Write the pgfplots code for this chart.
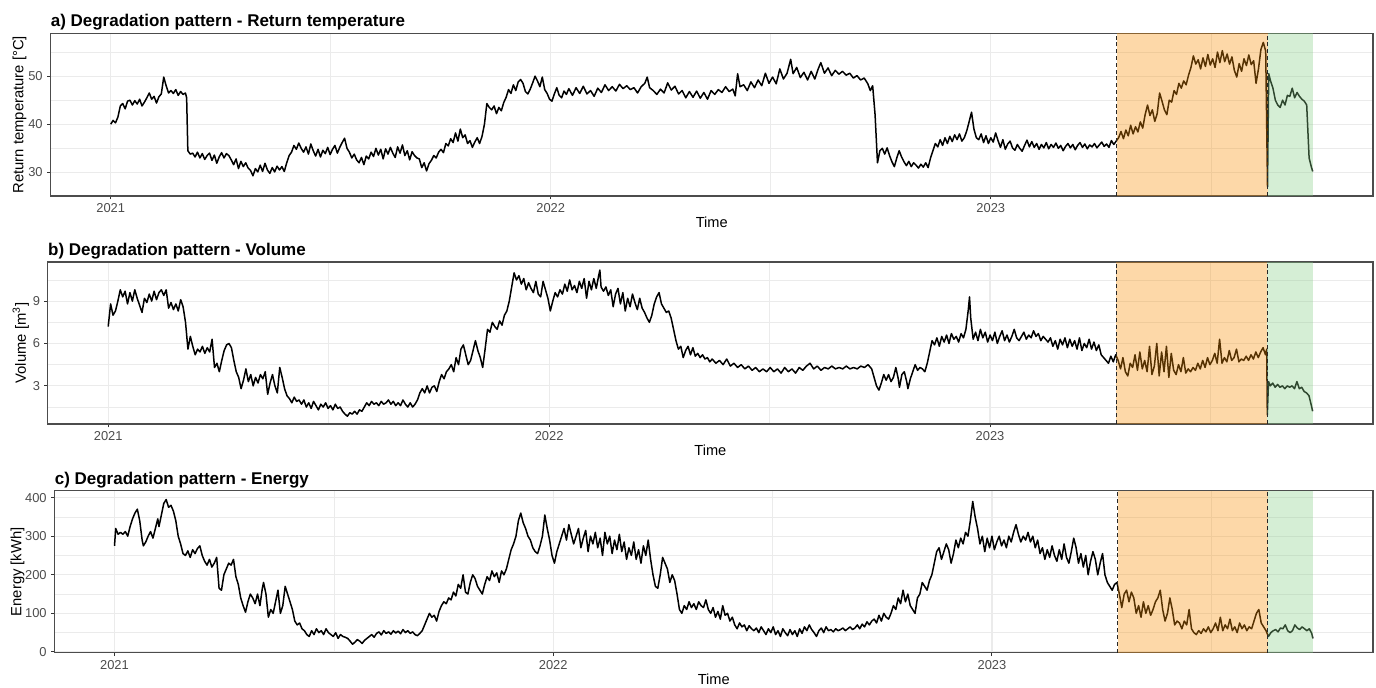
\documentclass[border=0pt]{standalone}
\usepackage{fontspec}
\setmainfont{Liberation Sans}
\usepackage{pgfplots}
\pgfplotsset{compat=1.18}

\definecolor{shadeorange}{RGB}{249,144,6}
\definecolor{shadegreen}{RGB}{135,206,135}
\definecolor{gridgray}{RGB}{235,235,235}

% common look of the three panels (ggplot theme_bw-ish)
\pgfplotsset{
  panel/.style={
    scale only axis,
    anchor=south west,
    xmin=-50, xmax=1047,
    xtick={0,365,730},
    xticklabels={2021,2022,2023},
    minor xtick={182.5,547.5,912.5},
    grid=both,
    major grid style={gridgray, line width=0.6pt},
    minor grid style={gridgray, line width=0.35pt},
    axis line style={black!70, line width=0.6pt},
    tick align=outside,
    xtick pos=bottom, ytick pos=left,
    major tick length=1.7pt,
    minor tick length=0pt,
    tick style={black!80, line width=0.5pt},
    /pgf/number format/assume math mode=true,
    ticklabel style={font=\fontsize{6.45}{7.5}\selectfont, text=black!70, inner sep=0pt},
    xticklabel style={anchor=base, yshift=-6.6pt},
    yticklabel style={anchor=east, xshift=-2pt},
    title style={anchor=base west, yshift=-6.7pt, font=\fontsize{8.5}{10}\selectfont\bfseries, inner sep=0pt},
    xlabel style={at={([yshift=-16pt]rel axis cs:0.5,0)}, anchor=base, font=\fontsize{7.3}{9}\selectfont, inner sep=0pt},
    ylabel style={anchor=base, font=\fontsize{7.4}{9}\selectfont, inner sep=0pt},
    xlabel={Time},
  },
  series/.style={black, line width=0.75pt, line join=round},
}
\tikzset{cut/.style={black!85, line width=0.55pt, dash pattern=on 2pt off 1.4pt}}

\begin{document}
\begin{tikzpicture}
\useasboundingbox (0,0) rectangle (688pt,344pt);

% ---------------- a) Return temperature
\begin{axis}[panel,
  at={(25.2pt,246pt)}, width=661.3pt, height=81.35pt,
  ymin=25.1, ymax=58.9,
  ytick={30,40,50}, minor ytick={25,35,45,55},
  title={a) Degradation pattern - Return temperature},
  title style={at={([yshift=4.15pt]rel axis cs:0,1)}},
  ylabel={Return temperature [°C]},
  ylabel style={at={([xshift=-13.5pt]rel axis cs:0,0.5)}},
]
\addplot[series] coordinates {
(0,40.0)(2,40.8)(4,40.3)(6,41.5)(8,43.8)(10,44.3)(12,43.2)(14,44.8)(16,45.0)(18,44.0)
(20,44.9)(22,44.2)(24,45.2)(26,43.8)(28,44.6)(30,45.5)(32,46.5)(34,45.2)(36,45.8)(38,44.4)
(40,45.7)(42,46.3)(44,49.8)(46,48.0)(48,46.5)(50,47.0)(52,46.4)(54,47.2)(56,46.0)(58,46.8)
(60,46.2)(62,46.5)(63,45.5)(64,34.5)(66,33.8)(68,34.0)(70,33.2)(72,34.2)(74,33.0)(76,33.9)
(78,32.7)(80,33.5)(82,34.0)(84,32.5)(86,33.6)(88,31.9)(90,33.2)(92,34.1)(94,33.0)(96,33.9)
(98,33.5)(100,32.6)(102,31.6)(104,32.8)(106,30.8)(108,32.3)(110,31.2)(112,32.0)(114,30.9)(116,30.4)
(118,29.3)(120,30.8)(122,30.1)(124,31.5)(126,30.2)(128,31.9)(130,30.5)(132,29.8)(134,31.0)(136,30.1)
(138,31.3)(140,30.5)(142,31.2)(144,30.2)(146,32.0)(148,33.5)(150,34.2)(152,35.6)(154,34.8)(156,36.1)
(158,35.0)(160,34.2)(162,35.3)(164,33.8)(166,35.9)(168,34.5)(170,33.4)(172,34.8)(174,33.2)(176,34.6)
(178,33.9)(180,35.2)(182,33.7)(184,34.8)(186,35.6)(188,34.0)(190,35.2)(192,36.2)(194,37.1)(196,35.0)
(198,34.2)(200,33.0)(202,33.8)(204,32.6)(206,32.0)(208,33.1)(210,31.6)(212,33.4)(214,32.8)(216,34.2)
(218,33.3)(220,35.0)(222,33.6)(224,34.8)(226,32.8)(228,34.9)(230,33.8)(232,35.2)(234,34.0)(236,33.1)
(238,35.3)(240,34.0)(242,35.7)(244,33.5)(246,34.5)(248,32.6)(250,34.3)(252,33.5)(254,33.0)(256,32.8)
(258,31.0)(260,32.0)(262,30.3)(264,31.8)(266,32.5)(268,33.5)(270,33.0)(272,34.2)(274,34.8)(276,34.1)
(278,36.0)(280,35.5)(282,37.0)(284,36.2)(286,38.2)(288,36.5)(290,39.0)(292,37.2)(294,37.8)(296,36.0)
(298,36.6)(300,35.2)(302,36.3)(304,37.2)(306,36.0)(308,37.5)(310,40.0)(312,44.3)(314,43.5)(316,43.0)
(318,43.8)(320,42.2)(322,43.5)(324,42.8)(326,44.5)(328,45.6)(330,47.2)(332,46.4)(334,48.2)(336,47.0)
(338,48.8)(340,49.3)(342,48.5)(344,46.8)(346,46.3)(348,47.3)(350,48.6)(352,50.0)(354,49.0)(356,47.8)
(358,49.8)(360,47.2)(362,46.4)(364,45.2)(366,44.8)(368,46.3)(370,47.6)(372,46.0)(374,45.5)(376,46.9)
(378,46.2)(380,47.4)(383,46.0)(386,47.6)(389,46.4)(392,47.9)(395,46.3)(398,47.0)(401,45.8)(404,47.5)
(407,46.6)(410,48.2)(413,47.0)(416,47.8)(419,46.9)(422,48.3)(425,47.4)(428,48.0)(431,47.2)(434,47.6)
(437,46.5)(440,47.8)(443,48.5)(445,49.8)(447,47.6)(450,47.0)(453,46.2)(456,47.3)(459,46.5)(462,48.6)
(465,47.1)(468,47.9)(471,46.3)(474,47.0)(477,45.5)(480,46.8)(483,45.6)(486,46.9)(489,45.4)(492,46.6)
(495,45.2)(498,47.0)(501,46.2)(504,47.2)(507,46.6)(510,47.8)(513,46.8)(516,47.3)(518,45.9)(520,50.5)
(522,47.8)(525,48.2)(528,47.0)(531,48.8)(534,47.6)(537,49.2)(540,48.0)(543,50.6)(546,48.5)(549,49.8)
(552,48.4)(555,51.5)(558,49.4)(561,50.6)(564,53.5)(566,50.5)(569,51.8)(572,49.7)(575,50.8)(578,49.2)
(581,51.0)(584,49.4)(587,51.6)(589,52.8)(592,50.6)(595,51.7)(598,50.1)(601,51.2)(604,50.4)(607,51.0)
(610,50.2)(613,50.6)(616,49.6)(619,50.1)(622,49.2)(625,49.6)(628,48.4)(630,47.0)(632,48.0)(634,42.0)
(636,32.0)(638,34.5)(640,35.0)(642,33.8)(644,35.1)(646,33.5)(648,32.2)(650,31.2)(652,33.0)(654,34.5)
(656,33.2)(658,32.2)(660,31.4)(662,32.3)(664,31.2)(666,32.0)(668,31.5)(670,30.9)(672,31.7)(674,31.1)
(676,32.0)(678,31.0)(680,33.0)(682,34.5)(684,36.0)(686,35.3)(688,36.8)(690,35.6)(692,37.2)(694,36.0)
(696,37.5)(698,36.4)(700,37.8)(702,36.8)(704,38.0)(706,36.5)(708,37.2)(710,38.6)(712,40.5)(714,42.5)
(716,39.0)(718,37.2)(720,36.8)(722,38.0)(724,36.2)(726,37.6)(728,36.0)(730,37.2)(732,36.3)(734,38.2)
(736,36.6)(738,35.2)(740,36.8)(742,34.8)(744,35.9)(746,36.5)(748,35.1)(750,34.6)(752,35.8)(754,35.0)
(756,34.4)(758,35.6)(760,36.7)(762,35.3)(764,36.4)(766,35.2)(768,36.0)(770,34.8)(772,35.8)(774,35.1)
(776,36.2)(778,34.9)(780,35.8)(782,35.2)(784,36.1)(786,35.0)(788,35.6)(790,34.5)(792,35.4)(794,36.0)
(796,35.1)(798,35.8)(800,34.7)(802,35.6)(804,36.2)(806,35.2)(808,35.9)(810,34.9)(812,35.7)(814,35.3)
(816,36.0)(818,35.1)(820,35.7)(822,36.3)(824,35.4)(826,35.9)(828,35.2)(830,36.6)(832,35.8)(834,36.5)
(836,37.2)(838,38.5)(840,37.0)(842,38.8)(844,37.6)(846,39.8)(848,38.0)(850,39.5)(852,38.4)(854,40.5)
(856,39.2)(858,42.0)(860,44.0)(862,41.8)(864,43.0)(866,40.6)(868,42.2)(870,46.5)(872,44.8)(874,43.0)
(876,42.0)(878,45.0)(880,44.6)(882,47.0)(884,46.2)(886,48.5)(888,47.5)(890,49.0)(892,48.2)(894,50.2)
(896,51.8)(898,54.2)(900,52.5)(902,53.4)(904,51.5)(906,53.8)(908,52.0)(910,54.5)(912,52.3)(914,53.6)
(916,51.8)(918,55.0)(920,52.8)(922,55.3)(924,53.0)(926,54.6)(928,52.5)(930,54.0)(932,51.2)(934,49.8)
(936,52.6)(938,51.0)(940,53.6)(942,52.2)(944,54.4)(946,52.4)(948,53.2)(950,48.5)(952,51.5)(954,55.5)
(956,57.0)(958,55.2)(959.5,27.0)(960.5,50.5)(962,49.0)(964,47.5)(966,45.0)(968,44.0)(970,43.5)
(972,45.0)(974,44.0)(976,46.0)(978,45.8)(980,47.5)(982,45.5)(984,46.6)(986,45.8)(988,45.2)(990,44.8)
(992,44.0)(994,33.0)(996,31.0)(997,30.2)
};
\fill[shadeorange, opacity=0.35] (axis cs:834.5,25.1) rectangle (axis cs:959.5,58.9);
\fill[shadegreen, opacity=0.35] (axis cs:959.5,25.1) rectangle (axis cs:997,58.9);
\draw[cut] (axis cs:834.5,25.1) -- (axis cs:834.5,58.9);
\draw[cut] (axis cs:959.5,25.1) -- (axis cs:959.5,58.9);
\end{axis}

% ---------------- b) Volume
\begin{axis}[panel,
  at={(23.9pt,132pt)}, width=662.6pt, height=81pt,
  ymin=0.3, ymax=11.77,
  ytick={3,6,9}, minor ytick={1.5,4.5,7.5,10.5},
  title={b) Degradation pattern - Volume},
  title style={at={([yshift=4.15pt]rel axis cs:0,1)}},
  ylabel={Volume [m\textsuperscript{3}]},
  ylabel style={at={([xshift=-11pt]rel axis cs:0,0.5)}},
]
\addplot[series] coordinates {
(0,7.2)(2,8.8)(4,8.0)(6,8.3)(8,9.0)(10,9.8)(12,9.3)(14,9.7)(16,8.8)(18,9.6)
(20,9.0)(22,9.8)(24,9.2)(26,8.7)(28,8.2)(30,9.2)(32,8.9)(34,9.5)(36,9.0)(38,9.7)
(40,9.1)(42,9.6)(44,9.8)(46,9.4)(48,9.8)(50,8.5)(52,8.9)(54,8.4)(56,8.8)(58,8.3)
(60,9.1)(62,8.6)(64,7.5)(66,5.6)(68,6.5)(70,5.8)(72,5.2)(74,5.6)(76,5.4)(78,5.8)
(80,5.3)(82,5.7)(84,5.4)(86,6.3)(88,4.3)(90,4.6)(92,4.0)(94,4.8)(96,5.5)(98,5.9)
(100,6.0)(102,5.7)(104,4.8)(106,4.0)(108,3.6)(110,2.8)(112,3.4)(114,4.2)(116,3.3)(118,3.8)
(120,3.0)(122,3.6)(124,3.2)(126,3.8)(128,3.5)(130,4.0)(132,2.4)(134,3.2)(136,3.8)(138,3.0)
(140,2.5)(142,4.3)(144,3.6)(146,2.8)(148,2.3)(150,2.1)(152,1.8)(154,2.2)(156,1.9)(158,2.0)
(160,1.7)(162,2.0)(164,1.5)(166,1.8)(168,1.4)(170,1.9)(172,1.6)(174,1.3)(176,1.7)(178,1.5)
(180,1.8)(182,1.4)(184,1.6)(186,1.3)(188,1.7)(190,1.4)(192,1.5)(194,1.2)(196,1.0)(198,0.85)
(200,1.1)(202,1.0)(204,1.2)(206,1.0)(208,1.3)(210,1.2)(212,1.5)(214,1.8)(216,1.6)(218,1.9)
(220,1.7)(222,1.8)(224,1.6)(226,1.9)(228,1.7)(230,1.8)(232,2.0)(234,1.7)(236,1.9)(238,1.6)
(240,1.8)(242,1.6)(244,2.0)(246,1.7)(248,1.5)(250,1.8)(252,1.5)(254,1.7)(256,2.0)(258,2.5)
(260,2.8)(262,2.5)(264,3.0)(266,2.5)(268,2.9)(270,3.0)(272,2.6)(274,3.3)(276,3.8)(278,3.5)
(280,4.0)(282,4.2)(284,4.5)(286,4.0)(288,5.0)(290,4.5)(292,5.6)(294,5.9)(296,5.2)(298,4.5)
(300,4.8)(302,5.5)(304,6.2)(306,5.5)(308,5.0)(310,4.3)(312,5.6)(314,7.0)(316,6.8)(318,7.5)
(320,7.2)(322,7.0)(324,7.6)(326,7.3)(328,8.0)(330,8.3)(332,9.0)(334,10.0)(336,11.0)(338,10.5)
(340,10.8)(342,10.2)(344,10.6)(346,9.8)(348,10.3)(350,9.9)(352,9.6)(354,10.4)(356,9.5)(358,9.3)
(360,10.4)(362,9.8)(364,9.2)(366,8.3)(368,9.0)(370,9.6)(372,9.3)(374,9.8)(376,9.5)(378,10.2)
(380,9.7)(382,10.5)(384,9.8)(386,10.1)(388,9.6)(390,10.4)(392,9.9)(394,10.6)(396,9.2)(398,10.4)
(400,9.8)(402,10.6)(404,9.9)(406,10.8)(407,11.2)(408,10.0)(410,9.7)(412,10.0)(414,9.4)(416,9.8)
(418,8.6)(420,9.5)(422,9.9)(424,8.8)(426,9.6)(428,8.3)(430,9.2)(432,8.6)(434,9.5)(436,8.9)
(438,8.4)(440,9.2)(442,8.5)(444,8.2)(446,7.8)(448,7.5)(450,8.0)(452,8.8)(454,9.3)(456,9.6)
(458,8.8)(460,8.5)(462,8.2)(464,8.3)(466,7.8)(468,7.0)(470,6.2)(472,5.6)(474,5.8)(476,5.0)
(478,5.5)(480,5.8)(482,5.2)(484,5.7)(486,5.1)(488,5.3)(490,5.0)(492,5.2)(494,4.9)(496,5.0)
(498,4.7)(500,4.9)(503,4.6)(506,4.8)(509,4.5)(512,4.9)(515,4.4)(518,4.6)(521,4.3)(524,4.5)
(527,4.2)(530,4.4)(533,4.1)(536,4.3)(539,4.0)(542,4.2)(545,4.0)(548,4.3)(551,4.0)(554,4.2)
(557,3.9)(560,4.3)(563,4.0)(566,4.2)(569,3.9)(572,4.3)(575,4.1)(578,4.4)(581,4.6)(584,4.2)
(587,4.4)(590,4.1)(593,4.3)(596,4.2)(599,4.4)(602,4.2)(605,4.3)(608,4.2)(611,4.4)(614,4.2)
(617,4.3)(620,4.2)(623,4.4)(626,4.3)(629,4.5)(632,4.2)(634,3.6)(636,3.0)(638,2.7)(640,3.2)
(642,3.8)(644,3.4)(646,3.8)(648,3.3)(650,3.6)(652,4.3)(654,3.5)(655,2.9)(657,3.8)(659,4.0)
(661,3.3)(662,2.8)(664,3.5)(666,4.0)(668,4.5)(670,4.1)(672,4.3)(674,4.2)(676,4.0)(678,4.6)
(680,5.4)(682,6.2)(684,5.9)(686,6.4)(688,5.8)(690,6.5)(692,6.1)(694,6.6)(696,6.0)(698,6.7)
(700,6.3)(702,6.5)(704,6.1)(706,6.7)(708,6.4)(710,7.0)(712,8.4)(713,9.3)(714,7.8)(716,6.3)
(718,6.8)(720,6.2)(722,7.0)(724,6.4)(726,6.8)(728,6.1)(730,6.6)(732,6.2)(734,6.8)(736,6.0)
(738,6.5)(740,6.9)(742,6.2)(744,6.6)(746,6.1)(748,6.5)(750,7.0)(752,6.4)(754,6.2)(756,6.5)
(758,6.8)(760,6.3)(762,6.6)(764,6.4)(766,6.9)(768,6.5)(770,6.7)(772,6.2)(774,6.5)(776,6.3)
(778,6.1)(780,6.4)(782,5.8)(784,6.2)(786,5.6)(788,6.3)(790,5.9)(792,6.4)(794,5.7)(796,6.3)
(798,5.8)(800,6.2)(802,5.6)(804,6.4)(806,5.5)(808,6.0)(810,5.7)(812,6.3)(814,5.6)(816,6.1)
(818,5.5)(820,5.9)(822,5.2)(824,5.0)(826,4.8)(828,4.6)(830,5.1)(832,4.7)(834,5.2)(836,4.8)
(838,4.2)(840,5.0)(842,4.0)(844,3.7)(846,4.6)(848,4.3)(850,5.2)(852,4.1)(854,5.4)(856,4.2)
(858,4.8)(860,4.0)(862,5.8)(864,3.8)(866,4.4)(868,6.0)(870,3.7)(872,5.4)(874,4.0)(876,5.8)
(878,3.6)(880,5.3)(882,4.1)(884,3.8)(886,4.5)(888,4.0)(890,5.0)(892,3.9)(894,4.2)(896,4.0)
(898,4.3)(900,4.1)(902,4.6)(904,4.2)(906,4.8)(908,4.3)(910,5.0)(912,4.5)(914,4.8)(916,5.3)
(918,4.6)(920,6.3)(922,4.6)(924,5.0)(926,4.7)(928,5.5)(930,4.8)(932,5.0)(934,5.6)(936,4.7)
(938,4.9)(940,4.8)(942,5.1)(944,4.8)(946,5.2)(948,4.9)(950,5.4)(952,5.0)(954,5.4)(956,5.7)
(958,5.2)(959,5.6)(959.5,0.95)(960.5,3.3)(962,3.0)(964,3.2)(966,2.9)(968,3.1)(970,2.9)
(972,3.0)(974,2.8)(976,3.0)(978,2.9)(980,3.0)(982,2.8)(984,3.3)(986,2.8)(988,2.9)(990,2.6)
(992,2.5)(994,2.3)(996,1.6)(997,1.2)
};
\fill[shadeorange, opacity=0.35] (axis cs:834.5,0.3) rectangle (axis cs:959.5,11.77);
\fill[shadegreen, opacity=0.35] (axis cs:959.5,0.3) rectangle (axis cs:997,11.77);
\draw[cut] (axis cs:834.5,0.3) -- (axis cs:834.5,11.77);
\draw[cut] (axis cs:959.5,0.3) -- (axis cs:959.5,11.77);
\end{axis}

% ---------------- c) Energy
\begin{axis}[panel,
  at={(27.2pt,17.65pt)}, width=659.3pt, height=81pt,
  ymin=-2, ymax=418,
  ytick={0,100,200,300,400}, minor ytick={50,150,250,350},
  title={c) Degradation pattern - Energy},
  title style={at={([yshift=3.6pt]rel axis cs:0,1)}},
  ylabel={Energy [kWh]},
  ylabel style={at={([xshift=-16.5pt]rel axis cs:0,0.5)}},
]
\addplot[series] coordinates {
(0,275)(1,320)(3,305)(5,310)(7,305)(9,312)(11,300)(13,325)(15,345)(17,360)
(19,370)(21,340)(23,290)(24,275)(26,285)(28,300)(30,312)(32,295)(34,320)(36,345)
(37,325)(39,355)(41,385)(43,395)(45,375)(47,380)(49,365)(51,340)(53,300)(55,280)
(57,255)(59,250)(61,262)(63,245)(65,265)(67,255)(69,268)(71,275)(73,250)(75,235)
(77,225)(79,240)(81,220)(83,230)(85,245)(87,165)(89,160)(91,200)(93,215)(95,230)
(97,225)(99,240)(101,195)(103,175)(105,140)(107,120)(109,103)(111,130)(113,150)(115,140)
(117,125)(119,150)(121,120)(123,165)(124,180)(126,150)(128,90)(130,110)(132,100)(134,130)
(136,160)(138,100)(140,120)(142,170)(144,150)(146,130)(148,110)(150,80)(152,70)(154,75)
(156,60)(158,55)(160,45)(162,40)(164,55)(166,45)(168,60)(170,50)(172,55)(174,45)
(176,60)(178,50)(180,45)(182,40)(184,50)(186,35)(188,45)(190,40)(192,38)(194,35)
(196,28)(198,20)(200,25)(202,32)(204,28)(206,22)(208,30)(210,35)(212,40)(214,45)
(216,38)(218,48)(220,52)(222,44)(224,55)(226,48)(228,52)(230,46)(232,55)(234,49)
(236,54)(238,47)(240,58)(242,50)(244,55)(246,48)(248,52)(250,45)(252,42)(254,48)
(256,55)(258,70)(260,85)(262,100)(264,90)(266,95)(268,80)(270,105)(272,120)(274,130)
(276,125)(278,140)(280,135)(282,155)(284,145)(286,175)(288,165)(290,200)(292,155)(294,150)
(296,180)(298,200)(300,190)(302,170)(304,160)(306,150)(308,175)(310,195)(312,185)(314,210)
(316,195)(318,205)(320,180)(322,210)(324,200)(326,215)(328,240)(330,265)(332,280)(334,300)
(336,340)(338,360)(340,335)(342,320)(344,300)(346,290)(348,270)(350,260)(352,255)(354,275)
(356,300)(358,355)(360,320)(362,290)(364,250)(366,230)(368,260)(370,280)(372,300)(374,320)
(376,290)(378,330)(380,305)(382,280)(384,300)(386,320)(388,270)(390,295)(392,315)(394,260)
(396,300)(398,280)(400,310)(402,270)(404,295)(406,250)(408,310)(410,280)(412,300)(414,255)
(416,290)(418,265)(420,305)(422,260)(424,285)(426,240)(428,270)(430,250)(432,285)(434,240)
(436,265)(438,230)(440,275)(442,250)(444,290)(446,240)(448,200)(450,170)(452,165)(454,200)
(456,245)(458,230)(460,215)(462,180)(464,200)(466,185)(468,150)(470,110)(472,100)(474,120)
(476,110)(478,130)(480,115)(482,125)(484,110)(486,130)(488,120)(490,115)(492,135)(494,110)
(496,100)(498,115)(500,90)(502,105)(504,85)(506,120)(508,95)(510,100)(512,80)(514,90)
(516,70)(518,60)(520,75)(522,65)(524,70)(526,55)(528,68)(530,60)(532,55)(534,62)
(536,50)(538,65)(540,55)(542,45)(544,60)(546,50)(548,65)(550,45)(552,55)(554,40)
(556,60)(558,50)(560,42)(562,58)(564,45)(566,55)(568,40)(570,60)(572,48)(574,65)
(576,55)(578,70)(580,58)(582,50)(584,40)(586,55)(588,62)(590,50)(592,65)(594,55)
(596,58)(598,52)(600,60)(602,55)(604,58)(606,62)(608,55)(610,60)(612,65)(614,58)
(616,62)(618,70)(620,60)(622,72)(624,65)(626,78)(628,70)(630,80)(632,85)(634,75)
(636,95)(638,80)(640,100)(642,90)(644,85)(646,100)(648,120)(650,110)(652,140)(654,125)
(656,160)(658,130)(660,150)(662,120)(664,110)(666,100)(668,140)(670,150)(672,180)(674,170)
(676,160)(678,185)(680,200)(682,230)(684,260)(686,270)(688,240)(690,260)(692,280)(694,265)
(696,230)(698,255)(700,290)(702,270)(704,295)(706,280)(708,310)(710,300)(712,340)(714,390)
(716,350)(718,320)(720,280)(722,300)(724,260)(726,295)(728,270)(730,300)(732,265)(734,285)
(736,300)(738,275)(740,290)(742,270)(744,300)(746,285)(748,310)(750,330)(752,305)(754,285)
(756,300)(758,290)(760,310)(762,285)(764,300)(766,270)(768,290)(770,255)(772,270)(774,240)
(776,265)(778,245)(780,275)(782,250)(784,235)(786,265)(788,240)(790,280)(792,245)(794,230)
(796,260)(798,295)(800,270)(802,230)(804,255)(806,220)(808,250)(810,200)(812,235)(814,260)
(816,240)(818,200)(820,230)(822,255)(824,200)(826,180)(828,170)(830,160)(832,175)(834,180)
(836,150)(838,115)(840,150)(842,160)(844,130)(846,155)(848,140)(850,100)(852,120)(854,90)
(856,130)(858,100)(860,120)(862,95)(864,110)(866,130)(868,140)(870,160)(872,110)(874,80)
(876,100)(878,140)(880,110)(882,70)(884,80)(886,75)(888,60)(890,80)(892,70)(894,110)
(896,60)(898,50)(900,45)(902,55)(904,48)(906,60)(908,52)(910,65)(912,50)(914,60)
(916,75)(918,55)(920,90)(922,55)(924,70)(926,60)(928,85)(930,55)(932,65)(934,50)
(936,75)(938,60)(940,70)(942,55)(944,65)(946,60)(948,80)(950,100)(952,110)(954,75)
(956,65)(958,55)(960,40)(962,50)(964,55)(966,58)(968,52)(970,62)(972,60)(974,70)
(976,55)(978,50)(980,55)(982,70)(984,62)(986,58)(988,65)(990,60)(992,55)(994,60)
(996,48)(997,35)
};
\fill[shadeorange, opacity=0.35] (axis cs:834.5,-2) rectangle (axis cs:959.5,418);
\fill[shadegreen, opacity=0.35] (axis cs:959.5,-2) rectangle (axis cs:997,418);
\draw[cut] (axis cs:834.5,-2) -- (axis cs:834.5,418);
\draw[cut] (axis cs:959.5,-2) -- (axis cs:959.5,418);
\end{axis}
\end{tikzpicture}
\end{document}
